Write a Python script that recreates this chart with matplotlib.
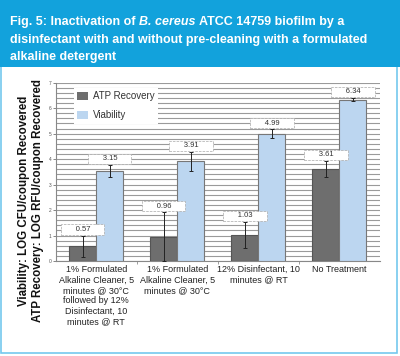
import matplotlib.pyplot as plt
import numpy as np
from matplotlib.patches import Rectangle, Patch

plt.rcParams['font.family'] = ['Liberation Sans', 'DejaVu Sans']

# Donnees
categories = ['1% Formulated\nAlkaline Cleaner, 5\nminutes @ 30°C\nfollowed by 12%\nDisinfectant, 10\nminutes @ RT',
              '1% Formulated\nAlkaline Cleaner, 5\nminutes @ 30°C',
              '12% Disinfectant, 10\nminutes @ RT',
              'No Treatment']
atp = [0.57, 0.96, 1.03, 3.61]
atp_err = [0.42, 0.95, 0.50, 0.32]
viability = [3.53, 3.91, 4.99, 6.34]
viability_err = [0.23, 0.36, 0.18, 0.05]
atp_labels = ['0.57', '0.96', '1.03', '3.61']
viability_labels = ['3.15', '3.91', '4.99', '6.34']

header_blue = '#12a2dc'
border_blue = '#74c8ee'

fig = plt.figure(figsize=(4, 3.56), dpi=100)

# Cadre et bandeau de titre
fig.patches.append(Rectangle((0.003, 0.008), 0.99, 0.99, transform=fig.transFigure,
                             fc='white', ec=border_blue, lw=1.2, zorder=-2))
fig.patches.append(Rectangle((0, 1 - 67 / 356), 1, 67 / 356, transform=fig.transFigure,
                             fc=header_blue, ec='none', zorder=-1))

renderer = fig.canvas.get_renderer()
title_kw = dict(color='white', fontsize=9, fontweight='bold', va='top', zorder=2)
x0 = 10 / 400
y1 = 1 - 16 / 356
t = fig.text(x0, y1, 'Fig. 5: Inactivation of ', **title_kw)
bb = t.get_window_extent(renderer)
t2 = fig.text(bb.x1 / fig.bbox.width, y1, 'B. cereus', style='italic', **title_kw)
bb2 = t2.get_window_extent(renderer)
fig.text(bb2.x1 / fig.bbox.width, y1, ' ATCC 14759 biofilm by a', **title_kw)
fig.text(x0, y1 - 17.5 / 356, 'disinfectant with and without pre-cleaning with a formulated', **title_kw)
fig.text(x0, y1 - 35 / 356, 'alkaline detergent', **title_kw)

ax = fig.add_axes([55.7 / 400, 1 - 261 / 356, (380 - 55.7) / 400, (261 - 82.7) / 356])

x = np.arange(len(categories))
width = 1 / 3
err_kw = dict(ecolor='#222222', elinewidth=0.7, capsize=1.5, capthick=0.7)
ax.bar(x - width / 2, atp, width, yerr=atp_err, color='#6e6e6e', edgecolor='#555555',
       linewidth=0.8, error_kw=err_kw, zorder=3)
ax.bar(x + width / 2, viability, width, yerr=viability_err, color='#bcd6f0', edgecolor='#777777',
       linewidth=0.8, error_kw=err_kw, zorder=3)

box = dict(boxstyle='square,pad=0.2', fc='white', ec='#aaaaaa', ls='--', lw=0.5)
for i in range(len(categories)):
    ax.annotate('      ' + atp_labels[i] + '      ', (x[i] - width / 2, atp[i] + atp_err[i]),
                xytext=(0, 2), textcoords='offset points', ha='center', va='bottom',
                fontsize=5.5, color='#333333', bbox=box, zorder=4)
    ax.annotate('      ' + viability_labels[i] + '      ', (x[i] + width / 2, viability[i] + viability_err[i]),
                xytext=(0, 2), textcoords='offset points', ha='center', va='bottom',
                fontsize=5.5, color='#333333', bbox=box, zorder=4)

ax.set_xlim(-0.5, 3.5)
ax.set_ylim(0, 7)
ax.set_yticks(range(8))
ax.set_yticks(np.arange(0, 7.01, 0.2), minor=True)
ax.yaxis.grid(True, which='both', color='#9a9a9a', lw=0.8)
ax.set_axisbelow(True)
ax.tick_params(axis='y', which='major', labelsize=3.5, length=2, width=0.5, colors='#555555', pad=1)
ax.tick_params(axis='y', which='minor', length=0)
ax.set_xticks(x)
ax.set_xticklabels(categories, fontsize=6.5, linespacing=1.2, color='#222222')
ax.set_xticks([0.5, 1.5, 2.5], minor=True)
ax.tick_params(axis='x', which='major', length=0, pad=3)
ax.tick_params(axis='x', which='minor', length=2, width=0.5, color='#777777')
for s in ['top', 'right']:
    ax.spines[s].set_visible(False)
for s in ['left', 'bottom']:
    ax.spines[s].set_color('#888888')
    ax.spines[s].set_linewidth(0.8)

handles = [Patch(fc='#6e6e6e', ec='none'), Patch(fc='#bcd6f0', ec='none')]
leg = ax.legend(handles, ['ATP Recovery', 'Viability'], loc='upper left', bbox_to_anchor=(0.04, 1.0),
                frameon=True, fancybox=False, edgecolor='none', framealpha=1, fontsize=7,
                handlelength=1.1, handleheight=0.9, labelspacing=0.9, borderpad=0.4, handletextpad=0.5)
for txt in leg.get_texts():
    txt.set_color('#333333')
leg.set_zorder(5)

fig.text(31 / 400, 1 - 201 / 356,
         'Viability: LOG CFU/coupon Recovered\nATP Recovery: LOG RFU/coupon Recovered',
         rotation=90, ha='center', va='center', fontsize=8.3, fontweight='bold',
         linespacing=1.15, color='#111111')

plt.savefig('out.png', dpi=100)
plt.close()
